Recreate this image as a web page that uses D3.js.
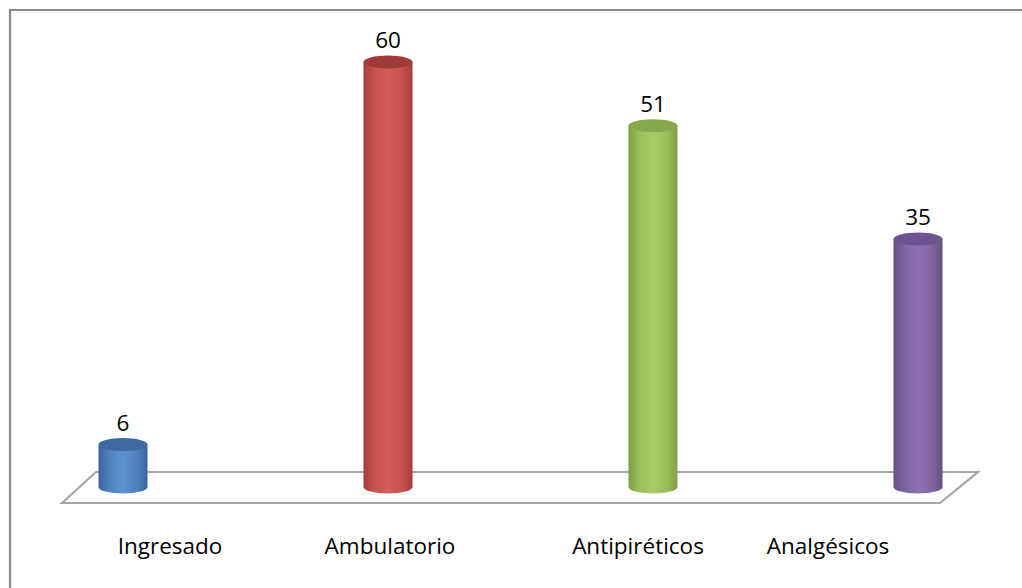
<!DOCTYPE html>
<html>
<head>
<meta charset="utf-8">
<script src="https://cdn.jsdelivr.net/npm/d3@7/dist/d3.min.js"></script>
<style>
  html, body { margin: 0; padding: 0; background: #ffffff; }
  svg { display: block; }
  text { font-family: "Open Sans", Lato, sans-serif; fill: #000; }
</style>
</head>
<body>
<svg id="chart" width="1022" height="588"></svg>
<script>
// Categories and their counts
const categories = ["Ingresado", "Ambulatorio", "Antipiréticos", "Analgésicos"];
const values = [6, 60, 51, 35];

// Cylinder colour sets: [edge, mid, highlight, top cap]
const palettes = [
  ["#3a659b", "#4f81bd", "#5d92d3", "#3e6aa1"],
  ["#a23e3b", "#c7524e", "#d35d59", "#9c3b38"],
  ["#7f9f45", "#9bbd5a", "#a9cc65", "#88a84c"],
  ["#654e86", "#8064a2", "#8d71b2", "#6c5490"]
];

// Horizontal shift of each axis label relative to its bar (3D floor projection)
const labelShift = [47, 2, -15, -90];

const svg = d3.select("#chart");
const W = 1022, H = 588;

// Outer frame (top and left edges visible)
svg.append("path")
  .attr("d", `M10,${H} L10,10 L${W},10`)
  .attr("fill", "none").attr("stroke", "#8c8c8c").attr("stroke-width", 2.2);

const x = d3.scalePoint().domain(categories).range([123, 918]);
const y = d3.scaleLinear().domain([0, 60]).range([487, 62]);

const barW = 49, ry = 6.5;

// Gradients for cylinder bodies
const defs = svg.append("defs");
palettes.forEach((p, i) => {
  const g = defs.append("linearGradient").attr("id", "cyl" + i)
    .attr("x1", "0%").attr("x2", "100%").attr("y1", "0%").attr("y2", "0%");
  g.append("stop").attr("offset", "0%").attr("stop-color", p[0]);
  g.append("stop").attr("offset", "22%").attr("stop-color", p[1]);
  g.append("stop").attr("offset", "50%").attr("stop-color", p[2]);
  g.append("stop").attr("offset", "78%").attr("stop-color", p[1]);
  g.append("stop").attr("offset", "100%").attr("stop-color", p[0]);
});

// 3D floor
const floor = svg.append("g").attr("fill", "none").attr("stroke", "#a6a6a6").attr("stroke-width", 2.2);
floor.append("path").attr("d", "M62,503 L96,472 L978,472 L940,503 Z");

// Cylinders
const bars = svg.append("g").selectAll("g.bar").data(categories).join("g").attr("class", "bar");
bars.each(function(c, i) {
  const g = d3.select(this);
  const cx = x(c);
  const y0 = y(0), y1 = y(values[i]);
  // body with rounded bottom
  g.append("path")
    .attr("d", `M${cx - barW / 2},${y1} L${cx - barW / 2},${y0} A${barW / 2},${ry} 0 0 0 ${cx + barW / 2},${y0} L${cx + barW / 2},${y1} Z`)
    .attr("fill", `url(#cyl${i})`);
  // top cap
  g.append("ellipse")
    .attr("cx", cx).attr("cy", y1).attr("rx", barW / 2).attr("ry", ry)
    .attr("fill", palettes[i][3]);
});

// Value labels
svg.append("g").selectAll("text").data(categories).join("text")
  .attr("x", c => x(c))
  .attr("y", (c, i) => y(values[i]) - 14)
  .attr("text-anchor", "middle")
  .attr("font-size", 22.5)
  .text((c, i) => values[i]);

// Category labels
svg.append("g").selectAll("text").data(categories).join("text")
  .attr("x", (c, i) => x(c) + labelShift[i])
  .attr("y", 554)
  .attr("text-anchor", "middle")
  .attr("font-size", 22.5)
  .text(c => c);
</script>
</body>
</html>
